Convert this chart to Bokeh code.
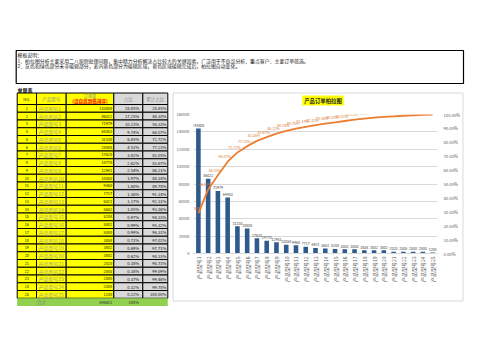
import math
from bokeh.plotting import figure
from bokeh.models import (Range1d, FactorRange, LinearAxis, FixedTicker,
                          NumeralTickFormatter, GridBox)
from bokeh.embed import file_html
from bokeh.resources import INLINE
from bokeh.core.properties import value

FONT = "Noto Sans CJK SC"

# ---------------- data ----------------
categories = ["产品型号1", "产品型号2", "产品型号3", "产品型号4", "产品型号5",
              "产品型号6", "产品型号7", "产品型号8", "产品型号9", "产品型号10",
              "产品型号11", "产品型号12", "产品型号13", "产品型号14", "产品型号15",
              "产品型号16", "产品型号17", "产品型号18", "产品型号19", "产品型号20",
              "产品型号21", "产品型号22", "产品型号23", "产品型号24", "产品型号25"]
orders = [143808, 86022, 71979, 64453, 31330, 28808, 17620, 14770, 12981, 10050,
          9460, 7717, 6421, 5652, 5208, 5002, 5000, 3858, 3802, 3802,
          2020, 2005, 2000, 2000, 1200]
share_pct = [28.85, 17.25, 10.23, 9.74, 6.65, 4.51, 3.82, 2.62, 2.54, 1.97,
             1.60, 1.36, 1.17, 1.05, 0.97, 0.99, 0.99, 0.71, 0.69, 0.62,
             0.38, 0.38, 0.37, 0.32, 0.22]
cum_pct = [28.85, 46.10, 56.33, 66.07, 72.72, 77.23, 81.05, 83.67, 86.21, 88.18,
           89.78, 91.14, 92.31, 93.36, 94.33, 95.32, 96.31, 97.02, 97.71, 98.33,
           98.71, 99.09, 99.46, 99.78, 100.00]
total_orders = 498611
total_share = "100%"
left_ticks = [0, 20000, 40000, 60000, 80000, 100000, 120000, 140000, 160000]
right_ticks = [0, 10, 20, 30, 40, 50, 60, 70, 80, 90, 100]

note_title = "模板说明："
note_lines = ["1、柏拉图分析主要采用二八原则处理问题，集中精力分析解决占比较大的关键因素，广泛用于不良品分析、重点客户、主要订单筛选。",
              "2、灰色和绿色部分未非编辑部分，表内黄色部分为编辑区域，黄色区域编辑完成后，柏拉图自动变化。"]
sheet_label = "单量表"
headers = ["NO.", "产品型号", "订单量", "(请自高到低排序)", "占比", "累计占比"]
chart_title = "产品订单柏拉图"

# ---------------- background page figure (page pixel coords) ----------------
W, H = 503, 356
bg = figure(width=W, height=H, x_range=Range1d(0, W), y_range=Range1d(H, 0),
            output_backend="svg", toolbar_location=None, min_border=0,
            x_axis_type=None, y_axis_type=None)
bg.outline_line_color = None
bg.background_fill_color = "white"
bg.border_fill_color = "white"

# notes box
bg.quad(left=[15.7], right=[463], top=[50], bottom=[83], fill_color=None,
        line_color="black", line_width=1.2)
bg.text(x=[17], y=[54.2], text=[note_title], text_font=value(FONT),
        text_font_size="4.9px", text_baseline="middle", text_color="#222222")
bg.text(x=[17, 17], y=[59.6, 65.0], text=note_lines, text_font=value(FONT),
        text_font_size="4.9px", text_baseline="middle", text_color="#222222")
bg.text(x=[17], y=[88.5], text=[sheet_label], text_font=value(FONT),
        text_font_size="5px", text_font_style="bold", text_baseline="middle",
        text_color="black")

# table geometry
cols = [16.7, 36.0, 65.7, 113.3, 142.3, 167.3]
head_top, head_bot = 92.5, 104.0
row_h = (297.75 - head_bot) / len(categories)

L, R, T, B, F = [], [], [], [], []
for c in range(5):
    L.append(cols[c]); R.append(cols[c + 1]); T.append(head_top); B.append(head_bot)
    F.append("#FFFF00" if c < 3 else "#D9D9D9")
for i in range(len(categories)):
    top = head_bot + i * row_h
    for c in range(5):
        L.append(cols[c]); R.append(cols[c + 1]); T.append(top); B.append(top + row_h)
        F.append("#FFFF00" if c < 3 else "#D9D9D9")
bg.quad(left=L, right=R, top=T, bottom=B, fill_color=F, line_color="black",
        line_width=1.0)

# total row
tot_top = head_bot + len(categories) * row_h
bg.quad(left=[cols[0]], right=[cols[5]], top=[tot_top], bottom=[tot_top + 7.75],
        fill_color="#92D050", line_color=None)

# header text
hy = (head_top + head_bot) / 2
bg.text(x=[(cols[0] + cols[1]) / 2], y=[hy], text=[headers[0]], text_font=value(FONT),
        text_font_size="4px", text_align="center", text_baseline="middle",
        text_color="#333333")
bg.text(x=[(cols[1] + cols[2]) / 2, (cols[3] + cols[4]) / 2, (cols[4] + cols[5]) / 2],
        y=[hy, hy, hy], text=[headers[1], headers[4], headers[5]],
        text_font=value(FONT), text_font_size="4.5px", text_align="center",
        text_baseline="middle", text_color="#8C8C8C")
bg.text(x=[(cols[2] + cols[3]) / 2], y=[95.6], text=[headers[2]], text_font=value(FONT),
        text_font_size="4.2px", text_align="center", text_baseline="middle",
        text_color="#8C8C8C")
bg.text(x=[(cols[2] + cols[3]) / 2], y=[100.8], text=[headers[3]], text_font=value(FONT),
        text_font_size="4.6px", text_font_style="bold", text_align="center",
        text_baseline="middle", text_color="#FF0000")

# row text
ys = [head_bot + (i + 0.5) * row_h for i in range(len(categories))]
n = len(categories)
bg.text(x=[(cols[0] + cols[1]) / 2] * n, y=ys, text=[str(i + 1) for i in range(n)],
        text_font=value(FONT), text_font_size="3.8px", text_align="center",
        text_baseline="middle", text_color="#222222")
bg.text(x=[cols[1] + 2.2] * n, y=ys, text=categories, text_font=value(FONT),
        text_font_size="4.9px", text_align="left", text_baseline="middle",
        text_color="#9A9A9A")
bg.text(x=[cols[3] - 1.8] * n, y=ys, text=[str(v) for v in orders],
        text_font=value(FONT), text_font_size="3.8px", text_align="right",
        text_baseline="middle", text_color="#111111")
bg.text(x=[cols[4] - 3.8] * n, y=ys, text=[f"{v:.2f}%" for v in share_pct],
        text_font=value(FONT), text_font_size="4.1px", text_align="right",
        text_baseline="middle", text_color="#111111")
bg.text(x=[cols[5] - 1.5] * n, y=ys, text=[f"{v:.2f}%" for v in cum_pct],
        text_font=value(FONT), text_font_size="4.1px", text_align="right",
        text_baseline="middle", text_color="#111111")

ty = tot_top + 3.9
bg.text(x=[41], y=[ty], text=["合计"], text_font=value(FONT), text_font_size="4.5px",
        text_align="center", text_baseline="middle", text_color="#7F7F7F")
bg.text(x=[cols[3] - 1.8], y=[ty], text=[str(total_orders)], text_font=value(FONT),
        text_font_size="3.8px", text_align="right", text_baseline="middle",
        text_color="#222222")
bg.text(x=[cols[4] - 3.8], y=[ty], text=[total_share], text_font=value(FONT),
        text_font_size="4.1px", text_align="right", text_baseline="middle",
        text_color="#222222")

# chart frame + title
bg.quad(left=[172.5], right=[462.5], top=[92.5], bottom=[300.5], fill_color="white",
        line_color="#D9D9D9", line_width=1)
bg.quad(left=[301.7], right=[343.3], top=[95.0], bottom=[105.0], fill_color="#FFFF00",
        line_color=None)
bg.text(x=[322.5], y=[100.0], text=[chart_title], text_font=value(FONT),
        text_font_size="5.4px", text_font_style="bold", text_align="center",
        text_baseline="middle", text_color="#222222")

# ---------------- chart figure ----------------
ch = figure(width=291, height=208, x_range=FactorRange(factors=categories, range_padding=0),
            y_range=Range1d(0, 160000), output_backend="svg", toolbar_location=None,
            min_border_left=21, min_border_right=24, min_border_top=22,
            min_border_bottom=47)
ch.background_fill_color = None
ch.border_fill_color = None
ch.outline_line_color = None
ch.extra_y_ranges = {"pct": Range1d(0, 1)}

ch.vbar(x=categories, top=orders, width=0.47, fill_color="#2F5A8C", line_color=None)
ch.text(x=categories, y=orders, text=[str(v) for v in orders], text_font=value(FONT),
        text_font_size="3.6px", text_align="center", text_baseline="bottom",
        y_offset=-1.5, text_color="#404040")

cum_frac = [c / 100 for c in cum_pct]
ch.line(x=categories, y=cum_frac, y_range_name="pct", line_color="#ED7D31",
        line_width=1.8)
ch.text(x=categories, y=cum_frac, y_range_name="pct",
        text=[f"{v:.2f}%" for v in cum_pct], text_font=value(FONT),
        text_font_size="3.6px", text_align="center", text_baseline="bottom",
        x_offset=-3, y_offset=-2.5, text_color="#E0782F")

# axes
yax = ch.yaxis[0]
yax.ticker = FixedTicker(ticks=left_ticks)
yax.formatter = NumeralTickFormatter(format="0")
yax.axis_line_color = None
yax.major_tick_line_color = None
yax.minor_tick_line_color = None
yax.major_tick_out = 0
yax.major_label_standoff = 4
yax.major_label_text_font = FONT
yax.major_label_text_font_size = "3.9px"
yax.major_label_text_color = "#595959"

rax = LinearAxis(y_range_name="pct", ticker=FixedTicker(ticks=[t / 100 for t in right_ticks]),
                 formatter=NumeralTickFormatter(format="0.00%"))
rax.axis_line_color = None
rax.major_tick_line_color = None
rax.minor_tick_line_color = None
rax.major_tick_out = 0
rax.major_label_standoff = 6
rax.major_label_text_font = FONT
rax.major_label_text_font_size = "4.2px"
rax.major_label_text_color = "#595959"
ch.add_layout(rax, "right")

xax = ch.xaxis[0]
xax.axis_line_color = "#D9D9D9"
xax.major_tick_line_color = None
xax.minor_tick_line_color = None
xax.major_tick_out = 0
xax.major_label_orientation = math.pi / 2
xax.major_label_standoff = 3
xax.major_label_text_font = FONT
xax.major_label_text_font_size = "5px"
xax.major_label_text_color = "#595959"

ch.xgrid.grid_line_color = None
ch.ygrid.grid_line_color = "#D9D9D9"
ch.ygrid.ticker = FixedTicker(ticks=left_ticks)

layout = GridBox(children=[(bg, 0, 0, 3, 3), (ch, 1, 1)],
                 rows=["92px", "208px", "56px"], cols=["172px", "291px", "40px"],
                 spacing=0)

open("out.html", "w").write(file_html(layout, INLINE))
